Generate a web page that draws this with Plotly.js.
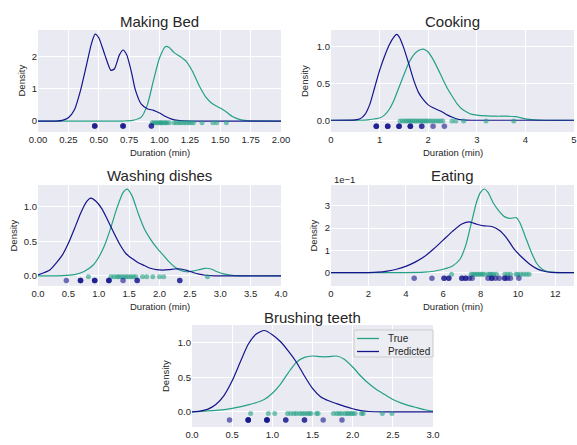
<!DOCTYPE html>
<html>
<head>
<meta charset="utf-8">
<script src="https://cdn.plot.ly/plotly-3.0.1.min.js"></script>
<style>html,body{margin:0;padding:0;background:#fff;}#chart{width:577px;height:445px;}</style>
</head>
<body>
<div id="chart"></div>
<script>
// ---------- DATA ----------
const titles = ["Making Bed", "Cooking", "Washing dishes", "Eating", "Brushing teeth"];
const seriesNames = ["True", "Predicted"];
const xTitle = "Duration (min)";
const yTitle = "Density";

// Making Bed
const mbTrueX = [0, 0.7, 0.78, 0.85, 0.9, 0.95, 1.0, 1.05, 1.08, 1.12, 1.17, 1.22, 1.27, 1.33, 1.38, 1.43, 1.5, 1.55, 1.6, 1.65, 1.7, 1.75, 2.0];
const mbTrueY = [0, 0, 0.02, 0.12, 0.5, 1.25, 1.95, 2.31, 2.28, 2.12, 2.0, 1.85, 1.55, 1.07, 0.75, 0.55, 0.4, 0.28, 0.14, 0.06, 0.02, 0.005, 0];
const mbPredX = [0, 0.15, 0.2, 0.25, 0.3, 0.35, 0.4, 0.44, 0.47, 0.5, 0.55, 0.6, 0.63, 0.67, 0.7, 0.73, 0.77, 0.8, 0.85, 0.9, 0.95, 1.0, 1.05, 1.1, 1.15, 1.2, 1.3, 2.0];
const mbPredY = [0, 0, 0.02, 0.1, 0.35, 0.95, 1.75, 2.4, 2.69, 2.58, 2.05, 1.57, 1.62, 2.05, 2.2, 2.05, 1.5, 0.98, 0.52, 0.38, 0.33, 0.25, 0.14, 0.06, 0.02, 0.005, 0, 0];
const mbRugTrue = [0.94, 0.955, 0.97, 0.985, 1.0, 1.01, 1.02, 1.035, 1.05, 1.06, 1.08, 1.12, 1.14, 1.16, 1.18, 1.2, 1.22, 1.24, 1.26, 1.28, 1.35, 1.44, 1.47, 1.55];
const mbRugPred = [0.467, 0.467, 0.467, 0.70, 0.70, 0.70, 0.933, 0.933];

// Cooking
const ckTrueX = [0, 0.6, 0.8, 1.0, 1.1, 1.2, 1.3, 1.4, 1.5, 1.6, 1.7, 1.8, 1.9, 2.0, 2.1, 2.2, 2.3, 2.4, 2.5, 2.6, 2.7, 2.8, 2.9, 3.0, 3.2, 3.4, 3.6, 3.8, 3.9, 4.0, 4.2, 4.4, 5];
const ckTrueY = [0, 0, 0.01, 0.03, 0.07, 0.15, 0.28, 0.45, 0.62, 0.78, 0.89, 0.95, 0.97, 0.93, 0.83, 0.7, 0.56, 0.43, 0.32, 0.22, 0.15, 0.11, 0.08, 0.07, 0.06, 0.055, 0.055, 0.05, 0.035, 0.018, 0.005, 0, 0];
const ckPredX = [0, 0.5, 0.6, 0.7, 0.8, 0.9, 1.0, 1.1, 1.2, 1.3, 1.35, 1.4, 1.5, 1.6, 1.7, 1.8, 1.9, 2.0, 2.1, 2.2, 2.3, 2.4, 2.5, 2.6, 2.7, 2.9, 5];
const ckPredY = [0, 0.005, 0.02, 0.08, 0.22, 0.45, 0.68, 0.87, 1.03, 1.14, 1.17, 1.14, 0.98, 0.77, 0.55, 0.38, 0.28, 0.21, 0.17, 0.14, 0.11, 0.07, 0.04, 0.015, 0.005, 0, 0];
const ckRugTrue = [1.42, 1.47, 1.52, 1.56, 1.6, 1.64, 1.68, 1.72, 1.76, 1.8, 1.84, 1.88, 1.92, 1.96, 2.0, 2.05, 2.1, 2.15, 2.2, 2.25, 2.3, 2.49, 2.57, 2.73, 3.19, 3.76];
const ckRugPred = [0.933, 0.933, 0.933, 1.167, 1.167, 1.167, 1.40, 1.40, 1.40, 1.633, 1.633, 1.633, 1.867, 1.867, 2.10, 2.333];

// Washing dishes
const wdTrueX = [0, 0.4, 0.6, 0.75, 0.9, 1.0, 1.1, 1.2, 1.3, 1.4, 1.47, 1.55, 1.65, 1.75, 1.85, 1.95, 2.05, 2.15, 2.25, 2.35, 2.45, 2.55, 2.65, 2.75, 2.85, 2.95, 3.05, 3.2, 3.4, 4];
const wdTrueY = [0, 0.005, 0.02, 0.06, 0.15, 0.27, 0.45, 0.7, 0.98, 1.2, 1.25, 1.15, 0.9, 0.68, 0.53, 0.41, 0.31, 0.21, 0.13, 0.08, 0.06, 0.07, 0.09, 0.11, 0.1, 0.06, 0.03, 0.008, 0, 0];
const wdPredX = [0, 0.2, 0.4, 0.5, 0.6, 0.7, 0.8, 0.87, 0.95, 1.05, 1.15, 1.25, 1.35, 1.45, 1.55, 1.65, 1.75, 1.85, 1.95, 2.05, 2.15, 2.25, 2.35, 2.45, 2.55, 2.65, 2.75, 2.9, 3.1, 4];
const wdPredY = [0.015, 0.09, 0.3, 0.47, 0.68, 0.9, 1.07, 1.12, 1.08, 0.97, 0.8, 0.62, 0.45, 0.32, 0.25, 0.19, 0.15, 0.11, 0.09, 0.085, 0.09, 0.1, 0.1, 0.08, 0.05, 0.025, 0.01, 0.002, 0, 0];
const wdRugTrue = [0.83, 1.2, 1.25, 1.3, 1.33, 1.37, 1.41, 1.45, 1.49, 1.53, 1.57, 1.61, 1.72, 1.79, 1.89, 2.0, 2.07, 2.79];
const wdRugPred = [0.467, 0.70, 0.70, 0.70, 0.933, 0.933, 0.933, 1.167, 1.167, 1.167, 1.40, 1.633, 1.633, 2.333, 2.333];

// Eating (density in units of 1e-1)
const eaTrueX = [0, 4, 5, 5.5, 6, 6.5, 6.9, 7.2, 7.5, 7.8, 8.0, 8.2, 8.4, 8.7, 9.0, 9.3, 9.6, 9.9, 10.1, 10.4, 10.7, 11.0, 11.3, 11.6, 12, 12.5, 13];
const eaTrueY = [0, 0, 0.02, 0.06, 0.15, 0.3, 0.6, 1.2, 2.2, 3.2, 3.6, 3.75, 3.6, 3.1, 2.75, 2.5, 2.43, 2.47, 2.25, 1.6, 0.95, 0.42, 0.15, 0.05, 0.01, 0, 0];
const eaPredX = [0, 2, 2.5, 3, 3.5, 4, 4.5, 5, 5.5, 6, 6.5, 7, 7.4, 7.8, 8.2, 8.6, 9.0, 9.4, 9.8, 10.2, 10.6, 11, 11.4, 11.8, 12.2, 13];
const eaPredY = [0, 0, 0.02, 0.07, 0.15, 0.28, 0.47, 0.72, 1.07, 1.46, 1.85, 2.18, 2.28, 2.17, 2.1, 2.07, 1.9, 1.55, 1.05, 0.7, 0.4, 0.18, 0.06, 0.01, 0, 0];
const eaRugTrue = [6.45, 7.5, 7.6, 7.7, 7.8, 7.9, 8.0, 8.1, 8.2, 8.4, 8.5, 8.6, 8.7, 8.85, 9.3, 9.45, 9.6, 9.9, 10.0, 10.15, 10.3, 10.45, 10.6];
const eaRugPred = [4.45, 5.4, 6.05, 6.05, 6.3, 6.3, 7.0, 7.0, 7.2, 7.2, 7.4, 7.55, 8.4, 8.6, 8.6, 8.8, 9.0, 9.3, 9.3, 9.45, 9.6, 10.05];

// Brushing teeth
const btTrueX = [0, 0.3, 0.5, 0.7, 0.9, 1.0, 1.1, 1.2, 1.3, 1.4, 1.5, 1.6, 1.7, 1.8, 1.9, 2.0, 2.1, 2.2, 2.3, 2.4, 2.5, 2.6, 2.7, 2.8, 2.9, 3.0];
const btTrueY = [0, 0.02, 0.05, 0.1, 0.18, 0.27, 0.4, 0.57, 0.72, 0.79, 0.81, 0.8, 0.8, 0.81, 0.76, 0.65, 0.52, 0.41, 0.32, 0.25, 0.18, 0.13, 0.09, 0.06, 0.03, 0.01];
const btPredX = [0, 0.1, 0.2, 0.3, 0.4, 0.5, 0.6, 0.7, 0.8, 0.9, 1.0, 1.1, 1.2, 1.3, 1.4, 1.5, 1.6, 1.7, 1.8, 1.9, 2.0, 2.1, 2.2, 2.4, 3];
const btPredY = [0, 0.01, 0.04, 0.11, 0.24, 0.45, 0.72, 0.98, 1.13, 1.18, 1.12, 1.02, 0.88, 0.72, 0.52, 0.34, 0.22, 0.16, 0.12, 0.08, 0.045, 0.018, 0.005, 0, 0];
const btRugTrue = [0.73, 0.95, 1.03, 1.19, 1.23, 1.27, 1.3, 1.34, 1.37, 1.4, 1.43, 1.46, 1.48, 1.55, 1.57, 1.76, 1.8, 1.83, 1.86, 1.9, 1.93, 1.95, 1.98, 2.0, 2.03, 2.11, 2.13, 2.37, 2.49];
const btRugPred = [0.467, 0.70, 0.70, 0.70, 0.70, 0.933, 0.933, 0.933, 0.933, 1.167, 1.167, 1.40, 1.40, 1.633, 1.867];

// tick values per subplot
const xTicks = [[0,0.25,0.5,0.75,1,1.25,1.5,1.75,2],[0,1,2,3,4,5],[0,0.5,1,1.5,2,2.5,3,3.5,4],[0,2,4,6,8,10,12],[0,0.5,1,1.5,2,2.5,3]];
const yTicks = [[0,1,2],[0,0.5,1],[0,0.5,1],[0,1,2,3],[0,0.5,1]];

// ---------- STYLE / LAYOUT ----------
const W = 577, H = 445;
const FONT = 'Liberation Sans, Arial, sans-serif';
const TEAL = 'rgb(36,160,134)';
const NAVY = 'rgb(20,20,140)';
const BG = '#EAEAF2';
const TXT = '#262626';

// pixel boxes [left, right, top, bottom]
const boxes = [[38,281,30,132],[331,574,30,132],[38,281,185,286],[331,574,185,286],[192,433,325,427]];
const xRanges = [[0,2],[0,5],[0,4],[0,13],[0,3]];
const yRanges = [[-0.34,2.82],[-0.16,1.23],[-0.145,1.31],[-0.6,3.93],[-0.22,1.26]];
const xFmt = ['.2f','d','.1f','d','.1f'];
const yFmt = ['d','.1f','.1f','d','.1f'];
const rugTrueOff = [-0.05,-0.01,-0.012,-0.075,-0.025];
const rugPredOff = [-0.155,-0.082,-0.067,-0.25,-0.12];
const densLabelX = [21.5,305,13,313,165];
const titleY = [22,22,175,175.5,317.5];
const xTitleY = [152,152,306.5,306.5,449];

const curves = [
  [mbTrueX,mbTrueY,mbPredX,mbPredY,mbRugTrue,mbRugPred],
  [ckTrueX,ckTrueY,ckPredX,ckPredY,ckRugTrue,ckRugPred],
  [wdTrueX,wdTrueY,wdPredX,wdPredY,wdRugTrue,wdRugPred],
  [eaTrueX,eaTrueY,eaPredX,eaPredY,eaRugTrue,eaRugPred],
  [btTrueX,btTrueY,btPredX,btPredY,btRugTrue,btRugPred]
];

const traces = [];
const layout = {
  width: W, height: H,
  margin: {l:0,r:0,t:0,b:0},
  paper_bgcolor: '#ffffff',
  plot_bgcolor: BG,
  font: {family: FONT, size: 9.5, color: TXT},
  showlegend: false,
  annotations: [],
  shapes: []
};

curves.forEach((c, i) => {
  const n = i === 0 ? '' : String(i+1);
  const xa = 'x'+n, ya = 'y'+n;
  traces.push({x:c[0], y:c[1], xaxis:xa, yaxis:ya, type:'scatter', mode:'lines', name:seriesNames[0],
    line:{color:TEAL, width:1.2, shape:'spline', smoothing:0.6}, hoverinfo:'skip'});
  traces.push({x:c[2], y:c[3], xaxis:xa, yaxis:ya, type:'scatter', mode:'lines', name:seriesNames[1],
    line:{color:NAVY, width:1.2, shape:'spline', smoothing:0.6}, hoverinfo:'skip'});
  traces.push({x:c[4], y:c[4].map(() => rugTrueOff[i]), xaxis:xa, yaxis:ya, type:'scatter', mode:'markers',
    name:seriesNames[0], marker:{color:TEAL, size:5, opacity:0.6, line:{width:0}}, hoverinfo:'skip'});
  traces.push({x:c[5], y:c[5].map(() => rugPredOff[i]), xaxis:xa, yaxis:ya, type:'scatter', mode:'markers',
    name:seriesNames[1], marker:{color:NAVY, size:5.5, opacity:0.6, line:{width:0}}, hoverinfo:'skip'});

  const b = boxes[i];
  layout['xaxis'+n] = {
    domain:[b[0]/W, b[1]/W], anchor: ya, range: xRanges[i],
    tickvals: xTicks[i], tickformat: xFmt[i], ticks:'', ticklen:0,
    showgrid:true, gridcolor:'#ffffff', gridwidth:1, zeroline:false, showline:false,
    tickfont:{family:FONT, size:9.5, color:TXT},
    automargin:false, fixedrange:true
  };
  layout['yaxis'+n] = {
    domain:[1-b[3]/H, 1-b[2]/H], anchor: xa, range: yRanges[i],
    tickvals: yTicks[i], tickformat: yFmt[i], ticks:'', ticklen:0,
    showgrid:true, gridcolor:'#ffffff', gridwidth:1, zeroline:false, showline:false,
    tickfont:{family:FONT, size:9.5, color:TXT},
    automargin:false, fixedrange:true
  };
  layout.annotations.push({text:titles[i], xref:'paper', yref:'paper', x:(b[0]+b[1])/2/W, y:1-titleY[i]/H,
    xanchor:'center', yanchor:'middle', showarrow:false, font:{family:FONT, size:15, color:TXT}});
  layout.annotations.push({text:yTitle, xref:'paper', yref:'paper', x:densLabelX[i]/W, y:1-(b[2]+b[3])/2/H,
    xanchor:'center', yanchor:'middle', textangle:-90, showarrow:false, font:{family:FONT, size:9.5, color:TXT}});
  layout.annotations.push({text:xTitle, xref:'paper', yref:'paper', x:(b[0]+b[1])/2/W, y:1-xTitleY[i]/H,
    xanchor:'center', yanchor:'middle', showarrow:false, font:{family:FONT, size:9.5, color:TXT}});
});
layout.annotations.push({text:'1e\u22121', xref:'paper', yref:'paper', x:332/W, y:1-179/H,
  xanchor:'left', yanchor:'middle', showarrow:false, font:{family:FONT, size:9.5, color:TXT}});

// legend box (drawn to match the reference's compact legend)
const LG = {l:354, r:433, t:330, b:357, lineL:357, lineR:379, textX:386, rows:[338.5,351.5]};
const px = v => v/W, py = v => 1-v/H;
layout.shapes.push({type:'rect', xref:'paper', yref:'paper', x0:px(LG.l), x1:px(LG.r), y0:py(LG.b), y1:py(LG.t),
  fillcolor:'rgba(236,236,243,0.92)', line:{color:'#cccccc', width:1}, layer:'above'});
[TEAL, NAVY].forEach((col, k) => {
  layout.shapes.push({type:'line', xref:'paper', yref:'paper', x0:px(LG.lineL), x1:px(LG.lineR),
    y0:py(LG.rows[k]), y1:py(LG.rows[k]), line:{color:col, width:1.3}, layer:'above'});
  layout.annotations.push({text:seriesNames[k], xref:'paper', yref:'paper', x:px(LG.textX), y:py(LG.rows[k]),
    xanchor:'left', yanchor:'middle', showarrow:false, font:{family:FONT, size:10, color:TXT}});
});

Plotly.newPlot('chart', traces, layout, {displayModeBar:false, staticPlot:true});
</script>
</body>
</html>
